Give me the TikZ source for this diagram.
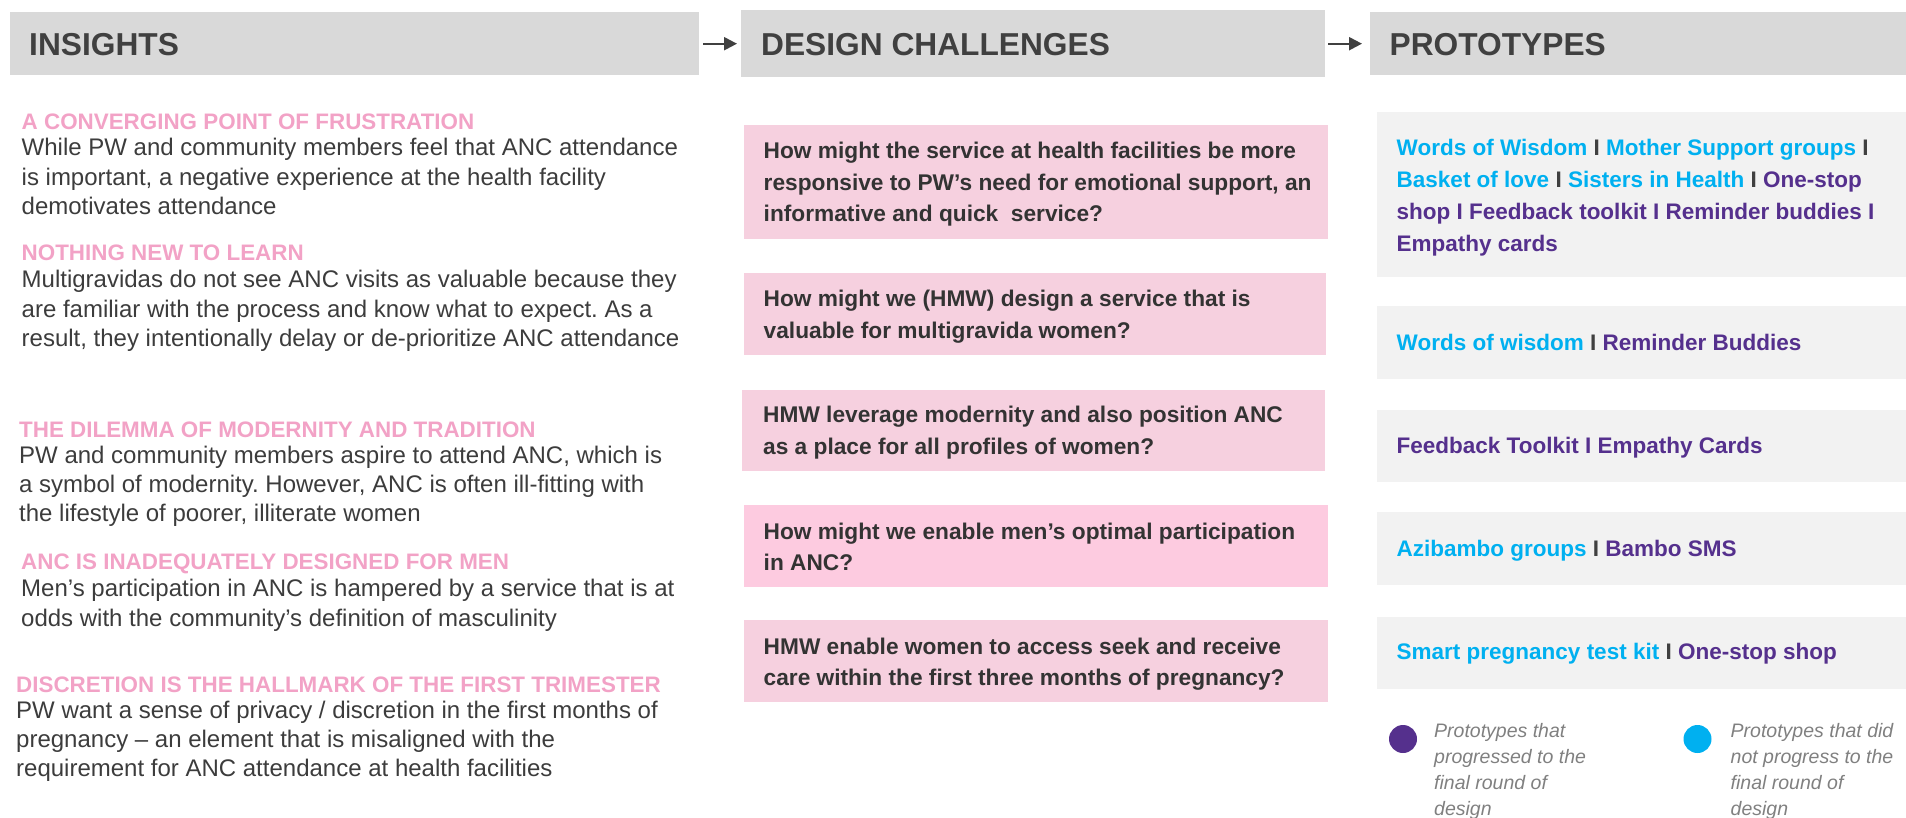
\documentclass[tikz,border=0pt]{standalone}
\usepackage{fontspec}
\setmainfont{Liberation Sans}
\usetikzlibrary{arrows.meta}
\frenchspacing

\definecolor{hdrgray}{HTML}{D9D9D9}
\definecolor{hdrtext}{HTML}{404040}
\definecolor{inkpink}{HTML}{F2A2C6}
\definecolor{bodytext}{HTML}{3C3C3C}
\definecolor{hmwfill}{HTML}{F6D0DF}
\definecolor{hmwfillb}{HTML}{FDCBE0}
\definecolor{hmwtext}{HTML}{333333}
\definecolor{protofill}{HTML}{F2F2F2}
\definecolor{cyanp}{HTML}{00B0F0}
\definecolor{purplep}{HTML}{55308D}
\definecolor{legendtext}{HTML}{808080}

\newcommand{\cyn}[1]{\textcolor{cyanp}{#1}}
\newcommand{\barsep}{\textcolor{hdrtext}{I}}

\begin{document}
\begin{tikzpicture}[x=1pt,y=-1pt,
  hdrbox/.style={fill=hdrgray, draw=none, inner sep=0pt, anchor=north west},
  hdrlabel/.style={anchor=base west, inner sep=0pt, text=hdrtext,
    font=\bfseries\fontsize{31.7}{31.7}\selectfont},
  flowarrow/.style={draw=hdrtext, line width=2.2pt,
    -{Triangle[length=13pt,width=13pt]}},
  ihead/.style={anchor=base west, inner sep=0pt, text=inkpink,
    font=\bfseries\fontsize{22.4}{26}\selectfont},
  ibody/.style={anchor=base west, inner sep=0pt, text=bodytext,
    font=\fontsize{24}{29.3}\selectfont},
  hmwbox/.style={fill=hmwfill, draw=none, inner sep=0pt, anchor=north west},
  hmwlabel/.style={anchor=base west, inner sep=0pt, text=hmwtext,
    font=\bfseries\fontsize{22.7}{31.5}\selectfont},
  protobox/.style={fill=protofill, draw=none, inner sep=0pt, anchor=north west,
    minimum width=540pt},
  protolabel/.style={anchor=base west, inner sep=0pt, text=purplep,
    font=\bfseries\fontsize{22.5}{31.8}\selectfont},
  legdot/.style={circle, inner sep=0pt, minimum size=28pt, draw=none},
  leglabel/.style={anchor=base west, inner sep=0pt, text=legendtext,
    font=\itshape\fontsize{19.5}{26.3}\selectfont},
]
\useasboundingbox (0,0) rectangle (1906,818);

% ---------- column headers ----------
\node[hdrbox, minimum width=689pt, minimum height=63pt] (h1) at (10,12) {};
\node[hdrbox, minimum width=584pt, minimum height=67pt] (h2) at (741,9.5) {};
\node[hdrbox, minimum width=540pt, minimum height=63pt] (h3) at (1370,12) {};
\node[hdrlabel] (h1t) at (29,56) {INSIGHTS};
\node[hdrlabel] (h2t) at (761,56) {DESIGN CHALLENGES};
\node[hdrlabel] (h3t) at (1389.5,56) {PROTOTYPES};

\draw[flowarrow] ([xshift=4pt]h1.east) -- ([xshift=-4pt]h1.east -| h2.west);
\draw[flowarrow] ([xshift=3pt]h2.east |- h1.east) -- ([xshift=-8pt]h1.east -| h3.west);

% ---------- insights ----------
\node[ihead] (i1h) at (21.5,130) {A CONVERGING POINT OF FRUSTRATION};
\node[ibody] (i1b) at (21.5,156) {\parbox[t]{700pt}{While PW and community members feel that ANC attendance\\
is important, a negative experience at the health facility\\
demotivates attendance}};

\node[ihead] (i2h) at (21.5,260.5) {NOTHING NEW TO LEARN};
\node[ibody] (i2b) at (21.5,288) {\parbox[t]{700pt}{Multigravidas do not see ANC visits as valuable because they\\
are familiar with the process and know what to expect. As a\\
result, they intentionally delay or de-prioritize ANC attendance}};

\node[ihead] (i3h) at (19,437.3) {THE DILEMMA OF MODERNITY AND TRADITION};
\node[ibody] (i3b) at (19,463.3) {\parbox[t]{700pt}{PW and community members aspire to attend ANC, which is\\
a symbol of modernity. However, ANC is often ill-fitting with\\
the lifestyle of poorer, illiterate women}};

\node[ihead] (i4h) at (21,569.3) {ANC IS INADEQUATELY DESIGNED FOR MEN};
\node[ibody] (i4b) at (21,596.7) {\parbox[t]{700pt}{Men’s participation in ANC is hampered by a service that is at\\
odds with the community’s definition of masculinity}};

\node[ihead] (i5h) at (16,692.3) {DISCRETION IS THE HALLMARK OF THE FIRST TRIMESTER};
\node[ibody] (i5b) at (16,718.3) {\parbox[t]{700pt}{PW want a sense of privacy / discretion in the first months of\\
pregnancy – an element that is misaligned with the\\
requirement for ANC attendance at health facilities}};

% ---------- design challenges ----------
\node[hmwbox, minimum width=583.5pt, minimum height=113.5pt] (m1) at (744,125) {};
\node[hmwbox, minimum width=582pt, minimum height=81pt] (m2) at (744,273.3) {};
\node[hmwbox, minimum width=583.5pt, minimum height=81.4pt] (m3) at (741.5,389.3) {};
\node[hmwbox, fill=hmwfillb, minimum width=583.5pt, minimum height=81.7pt] (m4) at (744,505) {};
\node[hmwbox, minimum width=583.5pt, minimum height=81.7pt] (m5) at (744,620) {};

\node[hmwlabel] (m1t) at ([shift={(19.5,34)}]m1.north west) {\parbox[t]{600pt}{How might the service at health facilities be more\\
responsive to PW’s need for emotional support, an\\
informative and quick\ \ service?}};
\node[hmwlabel] (m2t) at ([shift={(19.5,33.5)}]m2.north west) {\parbox[t]{600pt}{How might we (HMW) design a service that is\\
valuable for multigravida women?}};
\node[hmwlabel] (m3t) at ([shift={(21.5,33.5)}]m3.north west) {\parbox[t]{600pt}{HMW leverage modernity and also position ANC\\
as a place for all profiles of women?}};
\node[hmwlabel] (m4t) at ([shift={(19.5,34)}]m4.north west) {\parbox[t]{600pt}{How might we enable men’s optimal participation\\
in ANC?}};
\node[hmwlabel] (m5t) at ([shift={(19.5,34)}]m5.north west) {\parbox[t]{600pt}{HMW enable women to access seek and receive\\
care within the first three months of pregnancy?}};

% ---------- prototypes ----------
\node[protobox, minimum height=164.5pt] (p1) at (1377,112) {};
\node[protobox, minimum height=73pt] (p2) at (1377,306) {};
\node[protobox, minimum height=72.3pt] (p3) at (1377,409.3) {};
\node[protobox, minimum height=72.3pt] (p4) at (1377,512) {};
\node[protobox, minimum height=72pt] (p5) at (1377,616.3) {};

\node[protolabel] (p1t) at ([shift={(19.5,44)}]p1.north west) {\parbox[t]{520pt}{%
\cyn{Words of Wisdom} \barsep{} \cyn{Mother Support groups} \barsep\\
\cyn{Basket of love} \barsep{} \cyn{Sisters in Health} \barsep{} One-stop\\
shop I Feedback toolkit I Reminder buddies I\\
Empathy cards}};
\node[protolabel] (p2t) at ([shift={(19.5,44.5)}]p2.north west) {\cyn{Words of wisdom} \barsep{} Reminder Buddies};
\node[protolabel] (p3t) at ([shift={(19.5,44)}]p3.north west) {Feedback Toolkit I Empathy Cards};
\node[protolabel] (p4t) at ([shift={(19.5,44)}]p4.north west) {\cyn{Azibambo groups} \barsep{} Bambo SMS};
\node[protolabel] (p5t) at ([shift={(19.5,43.5)}]p5.north west) {\cyn{Smart pregnancy test kit} \barsep{} One-stop shop};

% ---------- legend ----------
\node[legdot, fill=purplep] (lgp) at (1403,739) {};
\node[legdot, fill=cyanp] (lgc) at (1697.5,739) {};
\node[leglabel] (lgpt) at (1434,737) {\parbox[t]{200pt}{Prototypes that\\
progressed to the\\
final round of\\
design}};
\node[leglabel] (lgct) at (1730.5,737) {\parbox[t]{200pt}{Prototypes that did\\
not progress to the\\
final round of\\
design}};
\end{tikzpicture}
\end{document}
